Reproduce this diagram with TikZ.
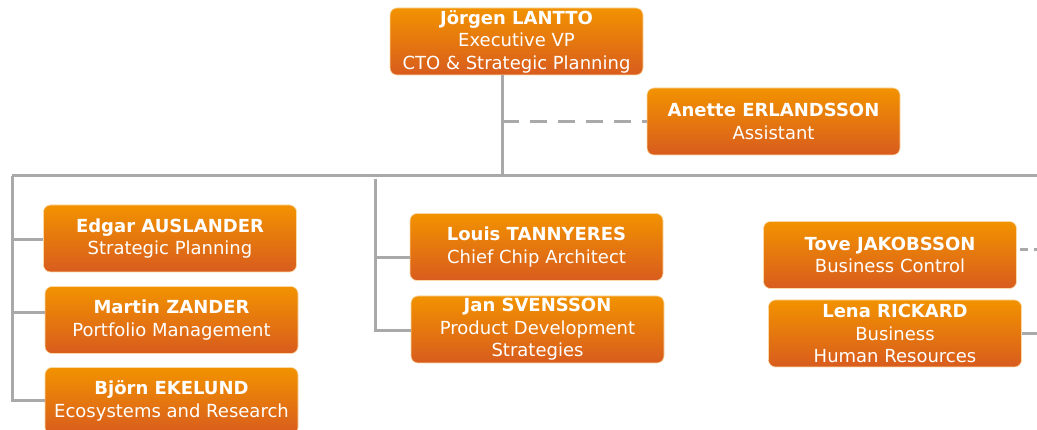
\documentclass[tikz,border=0pt]{standalone}
\usepackage{fontspec}
\setmainfont{DejaVu Sans}
\usetikzlibrary{calc}
\definecolor{otop}{HTML}{F29200}
\definecolor{obot}{HTML}{D85C1E}
\definecolor{lgray}{HTML}{A9A9A9}
\tikzset{
  person/.style={rounded corners=7pt, top color=otop, bottom color=obot,
    draw=otop!35!white, line width=0.6pt, text=white, align=center,
    minimum width=253pt, minimum height=67pt, inner sep=0pt,
    font=\fontsize{18}{22.5}\selectfont},
  link/.style={draw=lgray, line width=3pt},
  dlink/.style={draw=lgray, line width=3pt, dash pattern=on 17pt off 11pt},
  sdlink/.style={draw=lgray, line width=3pt, dash pattern=on 8pt off 6pt}
}
\begin{document}
\begin{tikzpicture}[x=1pt,y=-1pt]
\useasboundingbox (0,0) rectangle (1037,430);
\fill[white] (0,0) rectangle (1037,430);
% coordinates
\coordinate (trunk) at (502,176);
\coordinate (barL) at (12,176);
\coordinate (barR) at (1045,176);
\coordinate (mid) at (375,176);
\coordinate (edge) at (1045,250);
% people
\node[person] (top) at (516.5,41.5) {\textbf{Jörgen LANTTO}\\Executive VP\\CTO \& Strategic Planning};
\node[person] (anette) at (773.5,121.5) {\textbf{Anette ERLANDSSON}\\Assistant};
\node[person] (edgar) at (170,238.5) {\textbf{Edgar AUSLANDER}\\Strategic Planning};
\node[person] (martin) at (171.5,320) {\textbf{Martin ZANDER}\\Portfolio Management};
\node[person] (bjorn) at (171.5,401) {\textbf{Björn EKELUND}\\Ecosystems and Research};
\node[person] (louis) at (536.5,247) {\textbf{Louis TANNYERES}\\Chief Chip Architect};
\node[person] (jan) at (537.5,329.5) {\textbf{Jan SVENSSON}\\Product Development\\Strategies};
\node[person] (tove) at (890,255) {\textbf{Tove JAKOBSSON}\\Business Control};
\node[person] (lena) at (895,333.5) {\textbf{Lena RICKARD}\\Business\\Human Resources};
% connectors
\draw[link] (trunk |- top.south) -- (trunk);
\draw[dlink] (trunk |- anette.west) -- (anette.west);
\draw[link] (barL) -- (barR);
\draw[link] (barL) |- (bjorn.west);
\draw[link] ($(barL |- edgar.west)+(0,1.5)$) -- ($(edgar.west)+(0,1.5)$);
\draw[link] ($(barL |- martin.west)+(0,-7)$) -- ($(martin.west)+(0,-7)$);
\draw[link] ($(mid)+(0,3)$) |- ($(jan.west)+(0,1)$);
\draw[link] ($(mid |- louis.west)+(0,11)$) -- ($(louis.west)+(0,11)$);
\draw[sdlink] ($(tove.east)+(3,-5)$) -- (edge);
\draw[link] (lena.east) -- (lena.east -| edge);
\end{tikzpicture}
\end{document}
